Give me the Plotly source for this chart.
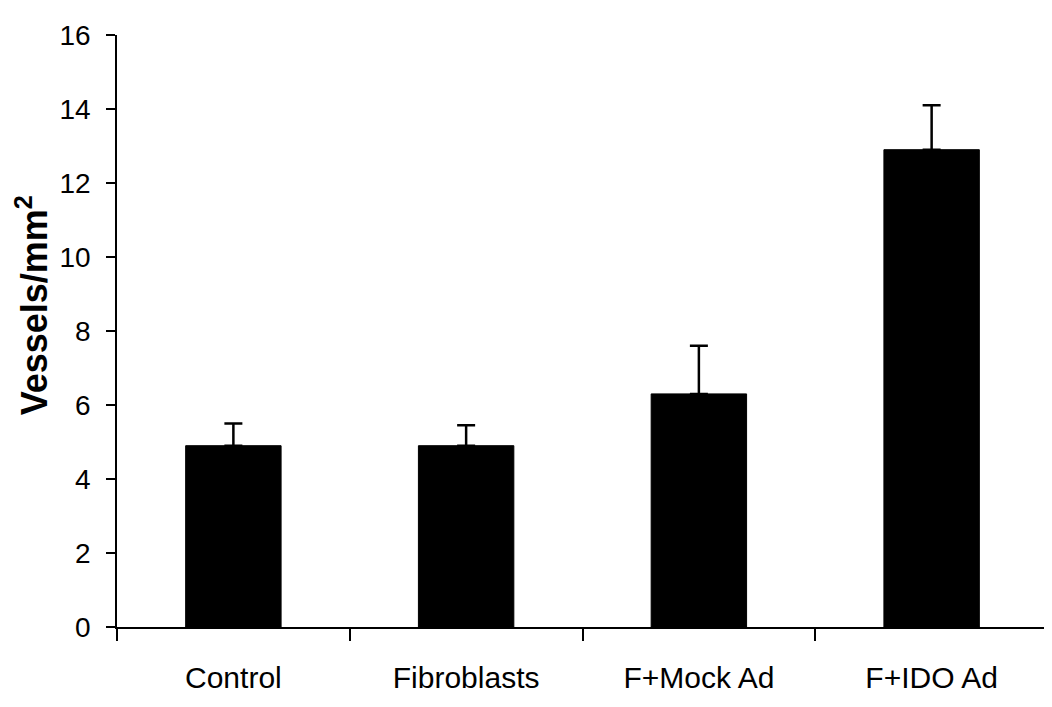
import plotly.graph_objects as go

categories = ["Control", "Fibroblasts", "F+Mock Ad", "F+IDO Ad"]
values = [4.9, 4.9, 6.3, 12.9]
errors = [0.6, 0.55, 1.3, 1.2]
y_ticks = [0, 2, 4, 6, 8, 10, 12, 14, 16]

fig = go.Figure()
fig.add_trace(go.Bar(
    x=categories, y=values,
    marker=dict(color="black", line=dict(color="black", width=1)),
    width=0.41,
    error_y=dict(type="data", array=errors, arrayminus=[0]*len(errors), symmetric=False,
                 color="black", thickness=2.5, width=9),
))
fig.update_layout(
    width=1052, height=707,
    margin=dict(l=109, r=12, t=20, b=88),
    paper_bgcolor="white", plot_bgcolor="white",
    showlegend=False,
    font=dict(family="Liberation Sans, Arial, sans-serif", color="black"),
)
fig.update_xaxes(
    showline=True, linecolor="black", linewidth=1.5,
    ticks="outside", tickson="boundaries", ticklen=12, tickcolor="black", tickwidth=1.5,
    tickfont=dict(size=30),
    ticklabelstandoff=23,
    showgrid=False,
)
fig.update_yaxes(
    range=[0, 16], tickvals=y_ticks, ticktext=[str(v) for v in y_ticks],
    showline=True, linecolor="black", linewidth=1.5,
    ticks="outside", ticklen=9, tickcolor="black", tickwidth=1.5,
    tickfont=dict(size=28),
    ticklabelstandoff=10,
    showgrid=False, zeroline=False,
)
fig.add_annotation(
    text="<b>Vessels/mm<sup>2</sup></b>", textangle=-90,
    xref="paper", yref="paper", x=-0.0915, y=0.543,
    xanchor="center", yanchor="middle", showarrow=False,
    font=dict(size=36, color="black"),
)
fig.write_html("out.html")
